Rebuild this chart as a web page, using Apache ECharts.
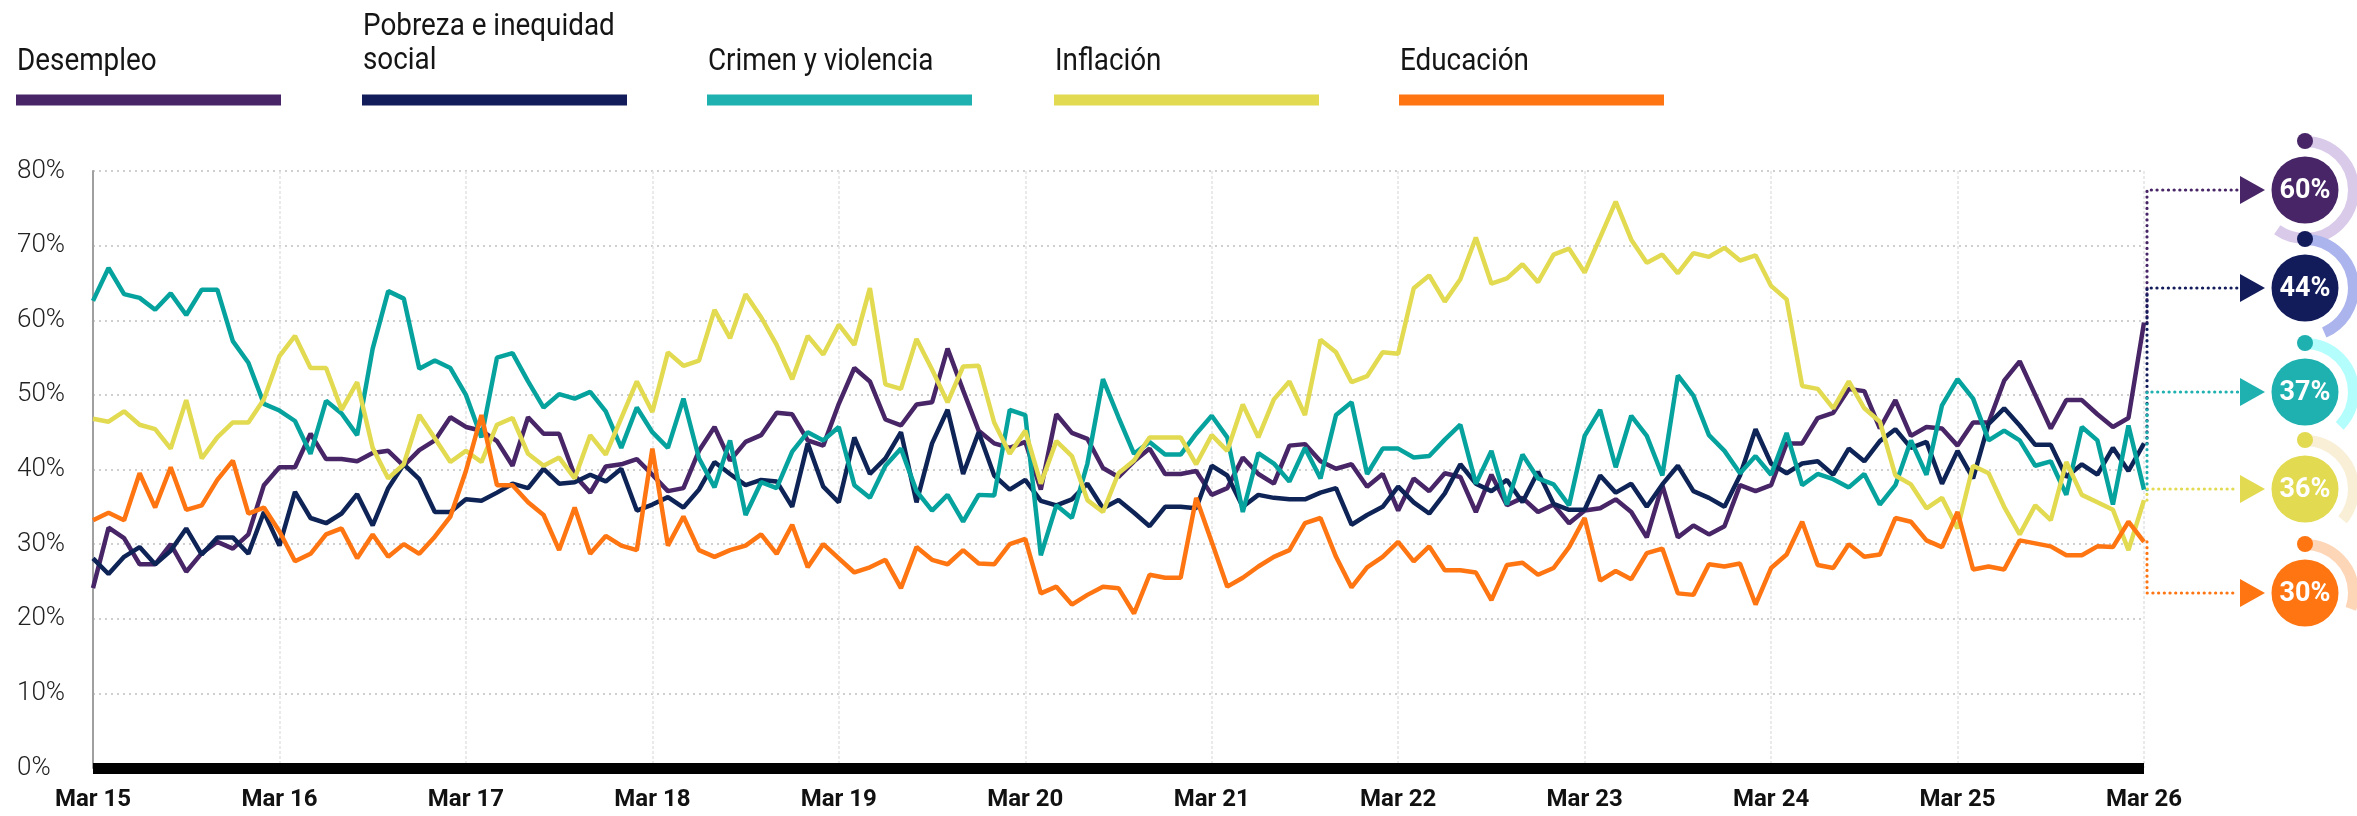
<!DOCTYPE html>
<html>
<head>
    <meta charset="utf-8">
    <title>Principales problemas</title>
    <style>
        html, body { margin: 0; padding: 0; background: #fff; }
        #main { width: 2357px; height: 816px; }
    </style>
</head>
<body>
<div id="main"></div>
<script src="https://cdn.jsdelivr.net/npm/echarts@6/dist/echarts.min.js"></script>
<script>
    // meses (mar 2015 - mar 2026)
    var monthNames = ['Ene', 'Feb', 'Mar', 'Abr', 'May', 'Jun', 'Jul', 'Ago', 'Sep', 'Oct', 'Nov', 'Dic'];
    var tickLabels = ['Mar 15', 'Mar 16', 'Mar 17', 'Mar 18', 'Mar 19', 'Mar 20', 'Mar 21', 'Mar 22', 'Mar 23', 'Mar 24', 'Mar 25', 'Mar 26'];
    var yTicks = [0, 10, 20, 30, 40, 50, 60, 70, 80];

    var desempleo = [24.1, 32.2, 30.8, 27.3, 27.3, 30.0, 26.3, 28.8, 30.3, 29.4, 31.3, 37.9, 40.3, 40.3, 44.8, 41.4, 41.4, 41.1, 42.2, 42.5, 40.5, 42.6, 43.9,
        47.0, 45.7, 45.2, 43.8, 40.5, 47.0, 44.8, 44.8, 39.2, 36.9, 40.4, 40.7, 41.4, 39.3, 37.1, 37.5, 42.5, 45.7, 41.2, 43.7, 44.6, 47.6,
        47.4, 43.9, 43.2, 48.8, 53.6, 51.8, 46.7, 45.9, 48.7, 49.0, 56.2, 50.6, 45.2, 43.5, 42.9, 43.7, 37.3, 47.4, 44.9, 44.1, 40.2, 39.0,
        41.1, 42.8, 39.4, 39.4, 39.8, 36.6, 37.5, 41.6, 39.4, 38.1, 43.2, 43.4, 41.1, 40.1, 40.7, 37.7, 39.4, 34.5, 38.8, 37.1, 39.5, 39.0,
        34.3, 39.3, 35.2, 36.2, 34.3, 35.3, 32.8, 34.5, 34.8, 36.0, 34.3, 30.9, 37.9, 30.9, 32.5, 31.3, 32.4, 37.9, 37.1, 37.9, 43.5, 43.5,
        46.9, 47.6, 50.8, 50.5, 45.5, 49.3, 44.5, 45.7, 45.5, 43.2, 46.3, 46.3, 51.9, 54.5, 50.0, 45.5, 49.3, 49.3, 47.4, 45.7, 46.9, 59.7];

    var pobreza = [28.1, 26.0, 28.3, 29.6, 27.3, 29.1, 32.1, 28.6, 30.9, 30.9, 28.7, 34.3, 29.8, 37.0, 33.5, 32.8, 34.1, 36.7, 32.5, 37.5, 40.7, 38.7, 34.3,
        34.3, 36.0, 35.8, 36.9, 38.1, 37.5, 40.1, 38.1, 38.3, 39.3, 38.4, 40.1, 34.5, 35.3, 36.3, 34.9, 37.3, 41.0, 39.4, 37.9, 38.6, 38.4,
        35.0, 43.5, 37.7, 35.6, 44.3, 39.4, 41.5, 45.0, 35.6, 43.5, 48.0, 39.4, 45.0, 39.2, 37.3, 38.6, 35.8, 35.2, 36.0, 38.1, 34.8, 35.9,
        34.2, 32.4, 35.0, 35.0, 34.8, 40.5, 39.2, 35.0, 36.6, 36.2, 36.0, 36.0, 36.9, 37.5, 32.6, 33.9, 35.0, 37.7, 35.6, 34.1, 36.8, 40.7,
        38.1, 37.1, 38.6, 35.6, 39.7, 35.4, 34.6, 34.6, 39.2, 36.9, 38.1, 35.0, 38.0, 40.5, 37.1, 36.2, 35.0, 39.2, 45.4, 40.8, 39.5, 40.8,
        41.1, 39.3, 42.8, 41.1, 43.8, 45.4, 42.9, 43.7, 38.1, 42.5, 38.8, 46.1, 48.2, 45.9, 43.3, 43.3, 39.0, 40.7, 39.3, 42.9, 39.8, 43.5];

    var crimen = [62.6, 67.0, 63.5, 63.0, 61.4, 63.6, 60.7, 64.1, 64.1, 57.2, 54.3, 48.8, 47.9, 46.5, 42.1, 49.2, 47.5, 44.6, 56.2, 63.9, 62.9, 53.5, 54.6,
        53.6, 50.0, 44.3, 55.0, 55.6, 51.8, 48.3, 50.1, 49.5, 50.4, 47.8, 42.9, 48.3, 45.0, 42.9, 49.5, 41.5, 37.6, 43.9, 33.9, 38.3, 37.5,
        42.4, 45.0, 43.9, 45.7, 37.9, 36.2, 40.5, 42.8, 37.1, 34.5, 36.6, 33.0, 36.6, 36.5, 48.0, 47.3, 28.5, 35.2, 33.5, 40.8, 52.1, 47.0,
        42.1, 43.7, 42.0, 42.0, 44.8, 47.2, 44.3, 34.3, 42.2, 40.8, 38.4, 42.9, 38.8, 47.3, 49.0, 39.4, 42.8, 42.8, 41.6, 41.8, 44.0, 46.0,
        38.1, 42.5, 35.3, 42.0, 38.8, 38.0, 35.2, 44.5, 48.0, 40.3, 47.2, 44.5, 39.2, 52.6, 49.9, 44.6, 42.5, 39.5, 41.8, 39.3, 44.9, 37.9,
        39.4, 38.7, 37.6, 39.4, 35.3, 37.9, 43.9, 39.3, 48.6, 52.1, 49.5, 43.9, 45.2, 43.9, 40.5, 41.1, 36.6, 45.7, 43.9, 35.3, 45.9, 37.3];

    var inflacion = [46.8, 46.4, 47.8, 46.0, 45.4, 42.8, 49.3, 41.5, 44.3, 46.3, 46.3, 49.4, 55.2, 57.9, 53.6, 53.6, 48.0, 51.7, 42.9, 38.8, 40.7, 47.3, 44.2,
        41.0, 42.5, 41.0, 46.0, 46.9, 42.1, 40.5, 41.6, 38.8, 44.6, 42.0, 46.9, 51.8, 47.7, 55.7, 53.9, 54.6, 61.4, 57.6, 63.5, 60.4, 56.7,
        52.1, 57.9, 55.4, 59.4, 56.7, 64.3, 51.4, 50.8, 57.5, 53.4, 49.0, 53.8, 53.9, 46.3, 42.1, 45.2, 38.1, 43.8, 41.8, 35.9, 34.3, 39.5,
        41.2, 44.3, 44.3, 44.3, 40.7, 44.6, 42.5, 48.7, 44.3, 49.4, 51.8, 47.3, 57.4, 55.7, 51.7, 52.5, 55.7, 55.5, 64.3, 66.0, 62.5, 65.5,
        71.1, 64.9, 65.6, 67.5, 65.1, 68.8, 69.6, 66.4, 71.1, 75.9, 70.8, 67.7, 68.8, 66.3, 69.0, 68.5, 69.7, 68.0, 68.7, 64.6, 62.8, 51.2,
        50.8, 48.2, 51.8, 48.2, 46.4, 39.2, 38.0, 34.8, 36.2, 32.1, 40.5, 39.5, 35.0, 31.3, 35.2, 33.2, 41.0, 36.6, 35.6, 34.6, 29.2, 35.9];

    var educacion = [33.2, 34.2, 33.2, 39.5, 34.9, 40.3, 34.6, 35.2, 38.6, 41.2, 34.1, 34.9, 31.7, 27.7, 28.7, 31.3, 32.1, 28.1, 31.3, 28.3, 30.0, 28.7, 31.0,
        33.7, 39.8, 47.3, 37.9, 37.9, 35.6, 33.9, 29.2, 34.9, 28.7, 31.1, 29.8, 29.2, 42.8, 29.8, 33.7, 29.2, 28.3, 29.2, 29.8, 31.3, 28.7,
        32.6, 26.9, 30.0, 28.1, 26.2, 26.9, 27.9, 24.1, 29.6, 27.9, 27.3, 29.2, 27.4, 27.3, 30.0, 30.7, 23.4, 24.3, 21.9, 23.2, 24.3, 24.1,
        20.7, 25.9, 25.5, 25.5, 36.2, 30.3, 24.3, 25.5, 27.0, 28.3, 29.2, 32.8, 33.5, 28.3, 24.2, 26.9, 28.3, 30.3, 27.7, 29.7, 26.5, 26.5,
        26.2, 22.5, 27.2, 27.5, 25.9, 26.8, 29.6, 33.5, 25.1, 26.4, 25.3, 28.8, 29.4, 23.4, 23.2, 27.3, 27.0, 27.4, 21.9, 26.8, 28.6, 33.0,
        27.2, 26.8, 30.0, 28.3, 28.6, 33.5, 33.0, 30.5, 29.6, 34.3, 26.6, 27.0, 26.6, 30.5, 30.1, 29.7, 28.5, 28.5, 29.7, 29.6, 33.0, 30.3];

    var seriesNames = ['Desempleo', 'Pobreza e inequidad\nsocial', 'Crimen y violencia', 'Inflación', 'Educación'];
    var seriesData = [desempleo, pobreza, crimen, inflacion, educacion];

    // colores
    var mainColors = ['#472566', '#121c5b', '#1fb0b0', '#e2da50', '#fe7512'];
    var lineColors = ['#472566', '#0e2356', '#06a39e', '#e2da50', '#fe7512'];
    var ringColors = ['#d9cae9', '#abb4ec', '#b3fdfd', '#f9eed6', '#fdd5b7'];

    // categorias mensuales
    var categories = [];
    for (var i = 0; i < desempleo.length; i++) {
        var m = 2 + i;
        categories.push(monthNames[m % 12] + ' ' + (15 + Math.floor(m / 12)));
    }

    var chart = echarts.init(document.getElementById('main'));

    var series = [];
    for (var k = 0; k < seriesData.length; k++) {
        series.push({
            name: seriesNames[k].replace('\n', ' '),
            type: 'line',
            data: seriesData[k],
            showSymbol: false,
            symbol: 'none',
            lineStyle: { color: lineColors[k], width: 4.5 },
            itemStyle: { color: lineColors[k] },
            z: 3
        });
    }

    chart.setOption({
        animation: false,
        grid: { left: 93, right: 213, top: 171, bottom: 48 },
        xAxis: {
            type: 'category',
            boundaryGap: false,
            data: categories,
            axisLine: { lineStyle: { color: '#000', width: 11, cap: 'butt' } },
            axisTick: { show: false },
            axisLabel: {
                interval: function (idx) { return idx % 12 === 0; },
                formatter: function (v, idx) { return tickLabels[idx / 12]; },
                fontFamily: 'Roboto',
                fontWeight: 'bold',
                fontSize: 24,
                color: '#111',
                margin: 20
            },
            splitLine: {
                show: true,
                interval: function (idx) { return idx % 12 === 0; },
                lineStyle: { color: '#e4e4e4', width: 1.5, type: [3, 2] }
            }
        },
        yAxis: {
            type: 'value',
            min: 0,
            max: 80,
            interval: 10,
            axisLine: { show: true, lineStyle: { color: '#a0a0a0', width: 2 } },
            axisTick: { show: false },
            axisLabel: {
                formatter: function (v) { return yTicks.indexOf(v) >= 0 ? v + '%' : ''; },
                align: 'left',
                margin: 76,
                fontFamily: 'Roboto',
                fontWeight: 300,
                fontSize: 26,
                color: '#222'
            },
            splitLine: { lineStyle: { color: '#cfcfcf', width: 2, type: [2, 4] } }
        },
        series: series
    });

    // leyenda (texto sobre barra) + conectores y circulos a la derecha
    var legendX = [17, 363, 708, 1055, 1400];
    var badgeY = [190, 288, 392, 489, 593];
    var graphics = [];

    for (var j = 0; j < seriesData.length; j++) {
        var twoLines = seriesNames[j].indexOf('\n') >= 0;
        graphics.push({
            type: 'text',
            x: legendX[j],
            y: twoLines ? 44 : 62,
            scaleX: 0.87,
            style: {
                text: seriesNames[j],
                font: '32px Roboto, sans-serif',
                fill: '#151515',
                lineHeight: 34.5,
                verticalAlign: 'middle'
            }
        });
        graphics.push({
            type: 'rect',
            shape: { x: legendX[j] - 1, y: 94.5, width: 265, height: 11 },
            style: { fill: mainColors[j] }
        });

        var data = seriesData[j];
        var last = data[data.length - 1];
        var p = chart.convertToPixel({ xAxisIndex: 0, yAxisIndex: 0 }, [data.length - 1, last]);
        var by = badgeY[j];
        var vx = p[0] + 3;

        graphics.push({
            type: 'polyline',
            z: 50,
            shape: { points: [[vx, p[1]], [vx, by], [2238, by]] },
            style: { stroke: mainColors[j], lineWidth: 3.2, lineDash: [0.1, 5.6], lineCap: 'round', fill: null }
        });
        graphics.push({
            type: 'polygon',
            z: 50,
            shape: { points: [[2240, by - 14], [2265, by], [2240, by + 14]] },
            style: { fill: mainColors[j] }
        });
        graphics.push({
            type: 'arc',
            z: 50,
            shape: { cx: 2305, cy: by, r: 48.5, startAngle: -Math.PI / 2, endAngle: -Math.PI / 2 + 2 * Math.PI * last / 100, clockwise: true },
            style: { stroke: ringColors[j], lineWidth: 11, fill: null }
        });
        graphics.push({
            type: 'circle',
            z: 51,
            shape: { cx: 2305, cy: by - 49, r: 8 },
            style: { fill: mainColors[j] }
        });
        graphics.push({
            type: 'circle',
            z: 51,
            shape: { cx: 2305, cy: by, r: 33.5 },
            style: { fill: mainColors[j] }
        });
        graphics.push({
            type: 'text',
            z: 52,
            x: 2305,
            y: by + 1,
            style: {
                text: Math.round(last) + '%',
                font: 'bold 27px Roboto, sans-serif',
                fill: '#fff',
                align: 'center',
                verticalAlign: 'middle'
            }
        });
    }

    chart.setOption({ graphic: graphics });
</script>
</body>
</html>
